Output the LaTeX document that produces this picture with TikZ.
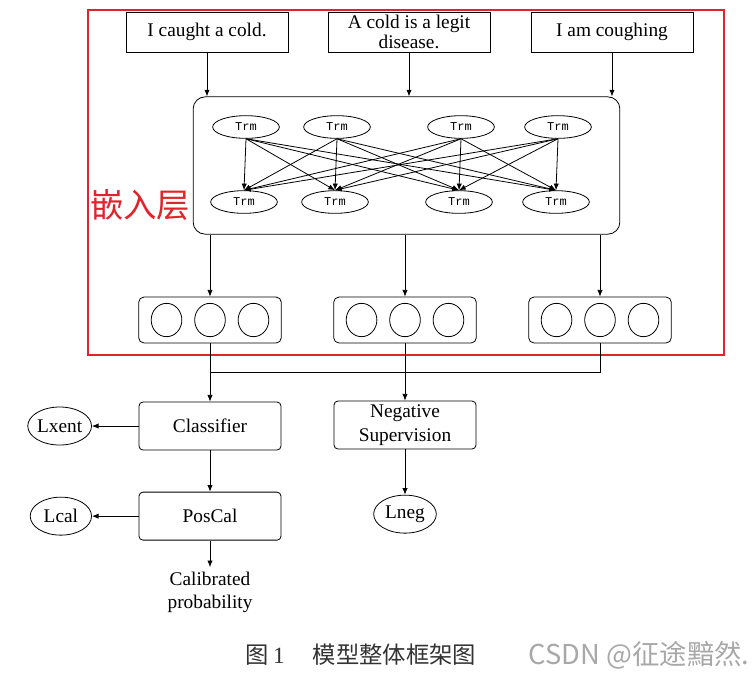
\documentclass[tikz,border=0pt]{standalone}
\usepackage{fontspec}
\setmainfont{Liberation Serif}
\newfontfamily\cjk{Noto Sans CJK SC}
\newfontfamily\trmfont{Liberation Mono}
\usepackage{xcolor}
\usetikzlibrary{arrows.meta,positioning,shapes.geometric}
\definecolor{frameRed}{HTML}{E0242B}
\definecolor{markGray}{HTML}{A8A8A8}
\definecolor{capGray}{HTML}{333333}

\begin{document}
\begin{tikzpicture}[x=0.75pt,y=-0.75pt,line width=0.6pt,
    font=\fontsize{14.5}{15}\selectfont,
    sentbox/.style={draw,minimum width=121.5pt,minimum height=30pt,align=center,inner sep=1pt},
    encbox/.style={draw,rounded corners=9pt,minimum width=320pt,minimum height=103pt},
    trm/.style={draw,ellipse,minimum width=50pt,minimum height=17pt,inner sep=0pt,
      font=\trmfont\fontsize{9}{10}\selectfont},
    vecbox/.style={draw,rounded corners=4pt,minimum width=107pt,minimum height=34.5pt},
    cell/.style={draw,ellipse,minimum width=23pt,minimum height=25pt,inner sep=0pt},
    blk/.style={draw,rounded corners=3pt,minimum width=106.5pt,minimum height=36pt,
      align=center,inner sep=1pt,font=\fontsize{14.5}{18}\selectfont},
    loss/.style={draw,ellipse,minimum width=46pt,minimum height=28.5pt,inner sep=0pt},
    arrow/.style={->,>={Latex[length=5pt,width=4pt]}}]
    \useasboundingbox (0,0) rectangle (756,676);
    % embedding layer frame
    \draw[frameRed,line width=1.6pt] (88,10) rectangle (724,355);
    \node[text=frameRed,font=\cjk\fontsize{25}{25}\selectfont] (embed) at (140,205) {嵌入层};
    % input sentences
    \node[sentbox] (cold) at (207,32) {I caught a cold.};
    \node[sentbox] (legit) at (409,32) {A cold is a legit\\disease.};
    \node[sentbox] (cough) at (612,32) {I am coughing};
    % transformer encoder
    \node[encbox] (encoder) at (406.5,165.5) {};
    \foreach \n/\x in {1/246,2/337,3/461,4/558}
      \node[trm] (t\n) at (\x,127) {Trm};
    \foreach \n/\x in {1/244,2/335,3/459,4/556}
      \node[trm] (b\n) at (\x,202) {Trm};
    \foreach \i in {1,...,4}
      \foreach \j in {1,...,4}
        \draw[arrow] (t\i.south) -- (b\j.north);
    \foreach \s in {cold,legit,cough}
      \draw[arrow] (\s.south) -- (\s.south |- encoder.north);
    % output vectors
    \foreach \n/\x in {1/210,2/405,3/600}{
      \node[vecbox] (vec\n) at (\x,320) {};
      \node[cell] (c\n b) at (vec\n) {};
      \node[cell,left=9pt of c\n b] (c\n a) {};
      \node[cell,right=9pt of c\n b] (c\n c) {};
      \draw[arrow] (vec\n.north |- encoder.south) -- (vec\n.north);
    }
    % heads
    \node[blk] (clf) at (210,426) {Classifier};
    \node[blk,below=31pt of clf] (pos) {PosCal};
    \node[blk] (neg) at (405,425) {Negative\\Supervision};
    \node[loss,left=35pt of clf] (lxent) {Lxent};
    \node[loss,left=35pt of pos] (lcal) {Lcal};
    \node[loss,below=34pt of neg,minimum width=47pt] (lneg) {Lneg};
    \node[below=20pt of pos,align=center,font=\fontsize{14.5}{17.5}\selectfont] (prob) {Calibrated\\probability};
    \coordinate (merge) at (vec1.south |- 0,372);
    \draw (vec3.south) |- (merge);
    \draw[arrow] (vec1.south) -- (clf.north);
    \draw[arrow] (vec2.south) -- (neg.north);
    \draw[arrow] (clf) -- (lxent);
    \draw[arrow] (clf) -- (pos);
    \draw[arrow] (pos) -- (lcal);
    \draw[arrow] (pos) -- (prob);
    \draw[arrow] (neg) -- (lneg);
    % caption
    \node[anchor=west,text=capGray,font=\fontsize{17.5}{18}\selectfont] (cap) at (241,655)
      {{\cjk 图}\,1\hspace{21pt}{\cjk 模型整体框架图}};
    \node[anchor=west,text=markGray,font=\cjk\fontsize{20.5}{21}\selectfont] (mark) at (524,655) {CSDN @征途黯然.};
\end{tikzpicture}
\end{document}
